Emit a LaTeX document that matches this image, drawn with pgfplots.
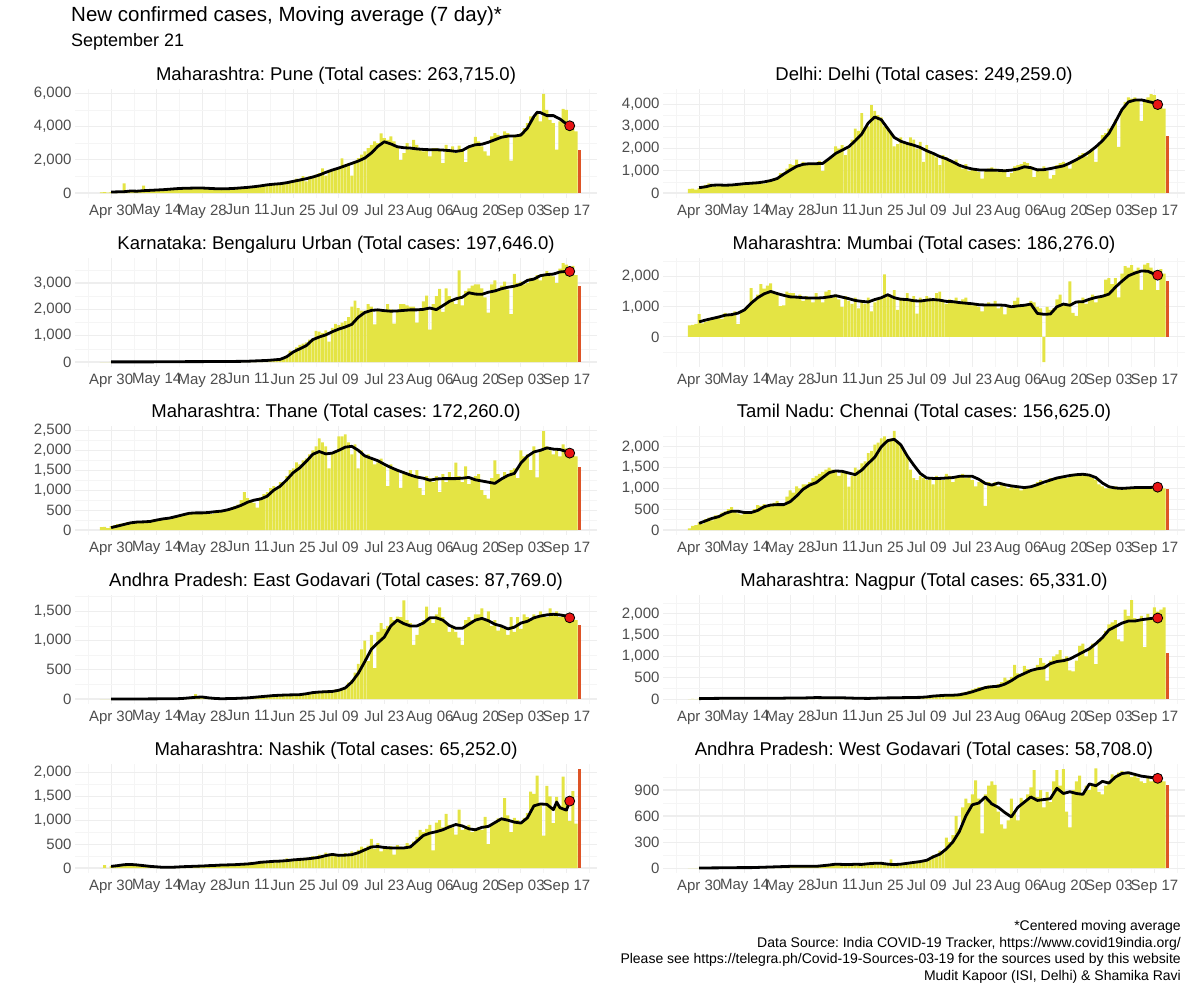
\documentclass[border=0pt]{standalone}
\usepackage{pgfplots}
\pgfplotsset{compat=1.18}
\usepackage{fontspec}
\setmainfont{Liberation Sans}
\frenchspacing
\definecolor{baryel}{RGB}{228,228,68}
\definecolor{lastred}{RGB}{222,84,38}
\definecolor{tickgray}{RGB}{77,77,77}
\definecolor{dotred}{RGB}{232,20,20}
\pgfplotsset{
 pnl/.style={
  scale only axis, width=522pt, height=109pt, anchor=north west,
  xmin=-11.1, xmax=149.4,
  xtick={0,14,...,140},
  xticklabels={Apr 30,May 14,May 28,Jun 11,Jun 25,Jul 09,Jul 23,Aug 06,Aug 20,Sep 03,Sep 17},
  minor xtick={-7,7,...,147},
  grid=both,
  major grid style={draw=gray!13, line width=1.1pt},
  minor grid style={draw=gray!8, line width=0.6pt},
  axis line style={draw=none},
  tick style={draw=none},
  tick label style={font=\fontsize{15}{15}\selectfont, text=tickgray},
  xticklabel style={yshift=-3pt},
  scaled y ticks=false,
  yticklabel style={/pgf/number format/.cd, fixed, 1000 sep={,}},
  /pgf/number format/assume math mode=true,
  title style={font=\fontsize{18.5}{18.5}\selectfont, yshift=-5pt},
 },
 bars/.style={ybar, bar width=0.9, bar shift=0pt, fill=baryel, draw=none},
 lastbar/.style={ybar, bar width=0.9, bar shift=0pt, fill=lastred, draw=none},
 maline/.style={black, line width=2.8pt, line join=round},
 dot/.style={only marks, mark=*, mark size=5pt, mark options={fill=dotred, draw=black, line width=0.8pt}},
}
\begin{document}
\begin{tikzpicture}
\path[use as bounding box] (0,0) rectangle (1200pt,-988pt);
\node[anchor=west, inner sep=0pt, font=\fontsize{20.5}{24}\selectfont] at (71pt,-16pt) {New confirmed cases, Moving average (7 day)*};
\node[anchor=west, inner sep=0pt, font=\fontsize{18}{22}\selectfont] at (71pt,-42pt) {September 21};

% ---------- Pune ----------
\begin{axis}[pnl, at={(75pt,-89pt)}, title={Maharashtra: Pune (Total cases: 263,715.0)},
 ymin=-300, ymax=6250, ytick={0,2000,4000,6000}, minor ytick={1000,3000,5000}]
\addplot[bars] table[row sep=\\, header=false, x expr=\coordindex-3, y index=0] {
40\\50\\30\\
60\\80\\90\\70\\580\\110\\90\\120\\100\\150\\
450\\120\\170\\160\\190\\180\\210\\200\\240\\230\\
260\\280\\270\\300\\290\\320\\310\\300\\290\\310\\
280\\260\\270\\240\\260\\250\\270\\290\\280\\300\\
320\\350\\330\\360\\400\\420\\450\\470\\500\\540\\
520\\600\\560\\640\\620\\700\\680\\860\\750\\1020\\
700\\1000\\960\\1100\\1200\\1480\\1050\\1250\\1350\\1450\\
1500\\2080\\1700\\1800\\1050\\1900\\2100\\2300\\2500\\2700\\
2900\\3100\\3000\\3580\\3300\\3200\\3400\\3100\\2800\\1980\\
2400\\3000\\2600\\3200\\2900\\2700\\2500\\2600\\2200\\2700\\
2700\\2600\\1800\\2900\\2500\\2800\\2400\\2850\\2600\\1850\\
2700\\2900\\3380\\3100\\2800\\2500\\2240\\3400\\3600\\3500\\
3300\\3700\\3600\\1950\\3500\\3500\\3600\\3900\\4200\\4600\\
4500\\4800\\4300\\5950\\5000\\4400\\4200\\2600\\4300\\5050\\
5000\\4200\\4000\\3700\\
};
\addplot[lastbar] coordinates {(144,2580)};
\addplot[maline] coordinates {(0,60)(2,70)(4,80)(6,120)(8,110)(10,140)(12,160)(14,180)(16,200)(18,230)(20,260)(22,280)(24,290)(26,300)(28,300)(30,280)(32,260)(34,250)(36,260)(38,280)(40,310)(42,340)(44,380)(46,430)(48,490)(50,530)(52,560)(54,620)(56,700)(58,780)(60,860)(62,960)(64,1080)(66,1240)(68,1380)(70,1500)(72,1640)(74,1780)(76,1920)(78,2100)(80,2400)(82,2800)(84,3080)(86,2950)(88,2780)(90,2720)(92,2700)(94,2650)(96,2620)(98,2600)(100,2600)(102,2580)(104,2550)(106,2500)(108,2560)(110,2780)(112,2900)(114,2930)(116,3050)(118,3200)(120,3350)(122,3420)(124,3420)(126,3480)(128,3900)(130,4600)(131,4850)(132,4830)(134,4650)(136,4650)(138,4450)(140,4150)(141,4040)};
\addplot[dot] coordinates {(141,4040)};
\end{axis}

% ---------- Delhi ----------
\begin{axis}[pnl, at={(663pt,-89pt)}, title={Delhi: Delhi (Total cases: 249,259.0)},
 ymin=-225, ymax=4680, ytick={0,1000,2000,3000,4000}, minor ytick={500,1500,2500,3500,4500}]
\addplot[bars] table[row sep=\\, header=false, x expr=\coordindex-3, y index=0] {
190\\200\\150\\
220\\300\\370\\430\\380\\300\\400\\350\\380\\320\\
340\\380\\400\\430\\360\\420\\460\\500\\450\\480\\
420\\520\\600\\650\\700\\900\\800\\1100\\1300\\1250\\
1500\\1300\\1400\\1250\\1300\\1350\\1300\\1450\\1000\\1400\\
1500\\1700\\2100\\2000\\2150\\1700\\2000\\2400\\2900\\2800\\
3600\\2900\\3000\\3950\\3700\\3500\\3400\\3000\\2900\\2700\\
2100\\2200\\2500\\2300\\2200\\2500\\2400\\2000\\2300\\1400\\
2150\\1800\\1700\\1600\\1250\\1700\\1600\\1500\\1400\\1500\\
1200\\1100\\1300\\1000\\1100\\1050\\950\\650\\1000\\1100\\
1150\\1100\\950\\1000\\1050\\720\\900\\1200\\1250\\1300\\
1400\\1350\\1200\\720\\1100\\1050\\1200\\1000\\650\\800\\
1250\\1350\\1400\\1300\\1100\\1450\\1550\\1700\\1800\\1650\\
1900\\2000\\1400\\2200\\2600\\2700\\2900\\3000\\3300\\2080\\
3800\\4100\\4300\\4250\\4300\\4200\\3250\\4100\\4300\\4450\\
4400\\4100\\3900\\3800\\
};
\addplot[lastbar] coordinates {(144,2550)};
\addplot[maline] coordinates {(0,240)(2,280)(4,350)(6,360)(8,350)(10,360)(12,390)(14,420)(16,440)(18,460)(20,500)(22,560)(24,650)(26,850)(28,1030)(30,1200)(32,1290)(34,1320)(36,1320)(38,1330)(40,1550)(42,1780)(44,1930)(46,2080)(48,2350)(50,2650)(52,3150)(54,3420)(56,3300)(58,2900)(60,2500)(62,2330)(64,2230)(66,2150)(68,2050)(70,1900)(72,1780)(74,1640)(76,1540)(78,1400)(80,1250)(82,1150)(84,1080)(86,1040)(88,1030)(90,1030)(92,1020)(94,1000)(96,1030)(98,1080)(100,1180)(102,1140)(104,1040)(106,1050)(108,1100)(110,1160)(112,1220)(114,1350)(116,1500)(118,1660)(120,1850)(122,2080)(124,2350)(126,2680)(128,3200)(130,3750)(132,4100)(134,4180)(136,4190)(138,4120)(140,4050)(141,3980)};
\addplot[dot] coordinates {(141,3980)};
\end{axis}

% ---------- Bengaluru ----------
\begin{axis}[pnl, at={(75pt,-258pt)}, title={Karnataka: Bengaluru Urban (Total cases: 197,646.0)},
 ymin=-190, ymax=3950, ytick={0,1000,2000,3000}, minor ytick={500,1500,2500,3500}]
\addplot[bars] table[row sep=\\, header=false, x expr=\coordindex-3, y index=0] {
0\\0\\0\\
5\\3\\8\\4\\6\\5\\7\\3\\6\\5\\
6\\4\\8\\5\\7\\9\\6\\8\\10\\7\\
10\\12\\8\\14\\11\\15\\13\\16\\12\\18\\
15\\20\\17\\22\\18\\20\\25\\19\\24\\22\\
26\\30\\28\\35\\40\\45\\42\\55\\60\\65\\
70\\100\\120\\180\\250\\430\\380\\560\\650\\700\\
750\\850\\900\\1180\\1150\\1100\\1200\\770\\1300\\1450\\
1400\\1500\\1550\\1700\\2100\\2330\\2050\\1950\\1950\\2200\\
2100\\1430\\2000\\1900\\1900\\2200\\2000\\1460\\1950\\2200\\
2200\\2150\\2100\\2100\\1500\\2000\\2300\\2520\\1230\\2200\\
2500\\2780\\1900\\2800\\2500\\2300\\2200\\3480\\2150\\2700\\
2800\\2900\\2950\\2950\\2800\\2450\\1880\\2950\\3100\\2700\\
2900\\3050\\2750\\1820\\3350\\3000\\3050\\2950\\3000\\3200\\
3200\\3300\\3100\\3300\\3450\\3350\\3250\\3000\\3550\\3760\\
3700\\3500\\3650\\3300\\
};
\addplot[lastbar] coordinates {(144,2870)};
\addplot[maline] coordinates {(0,5)(4,5)(8,5)(12,5)(16,8)(20,10)(24,15)(28,15)(32,18)(36,20)(40,25)(42,30)(44,40)(46,50)(48,60)(50,80)(52,100)(54,200)(56,380)(58,500)(60,620)(62,850)(64,950)(66,1030)(68,1150)(70,1250)(72,1330)(74,1430)(76,1700)(78,1880)(80,1960)(82,1980)(84,1950)(86,1930)(88,1940)(90,1960)(92,1980)(94,1980)(96,2000)(98,2050)(100,1990)(102,2140)(104,2300)(106,2400)(108,2460)(110,2630)(112,2580)(114,2570)(116,2650)(118,2700)(120,2780)(122,2840)(124,2880)(126,2950)(128,3100)(130,3150)(132,3280)(134,3320)(136,3340)(138,3420)(140,3440)(141,3440)};
\addplot[dot] coordinates {(141,3440)};
\end{axis}

% ---------- Mumbai ----------
\begin{axis}[pnl, at={(663pt,-258pt)}, title={Maharashtra: Mumbai (Total cases: 186,276.0)},
 ymin=-1000, ymax=2620, ytick={0,1000,2000}, minor ytick={-500,500,1500,2500}]
\addplot[bars] table[row sep=\\, header=false, x expr=\coordindex-3, y index=0] {
380\\400\\430\\
760\\450\\500\\550\\650\\600\\700\\600\\800\\750\\
700\\850\\420\\820\\900\\1050\\1620\\1200\\1400\\1750\\
1600\\1700\\1780\\1500\\1400\\1020\\1050\\1500\\1450\\1450\\
1300\\1400\\1200\\1350\\1300\\1150\\1450\\1300\\1150\\1500\\
1550\\1300\\1400\\1250\\1000\\1350\\1200\\1100\\1300\\950\\
1200\\1100\\1300\\850\\1150\\1250\\1300\\2080\\1400\\1350\\
1550\\900\\1300\\1250\\1450\\1200\\1350\\770\\1300\\1200\\
1350\\1300\\1250\\1450\\1500\\1200\\1100\\1250\\1150\\1300\\
1100\\1250\\1300\\1150\\1050\\1100\\1000\\850\\1050\\1150\\
1050\\1200\\950\\1000\\750\\1050\\950\\1200\\1300\\1000\\
1050\\1100\\1200\\1150\\1000\\950\\-840\\1000\\900\\950\\
1250\\1400\\1100\\1050\\1840\\800\\700\\1200\\1300\\1100\\
1250\\1400\\1150\\1300\\1350\\1900\\1950\\1750\\1950\\1310\\
2100\\2350\\2300\\2380\\2200\\2300\\1560\\2400\\2450\\2300\\
2200\\1550\\2250\\2100\\
};
\addplot[lastbar] coordinates {(144,1860)};
\addplot[maline] coordinates {(0,500)(2,560)(4,610)(6,660)(8,720)(10,740)(12,790)(14,900)(16,1120)(18,1300)(20,1430)(22,1510)(24,1440)(26,1380)(28,1330)(30,1320)(32,1300)(34,1290)(36,1290)(38,1300)(40,1330)(42,1370)(44,1320)(46,1270)(48,1210)(50,1180)(52,1160)(54,1240)(56,1300)(58,1400)(60,1300)(62,1250)(64,1240)(66,1200)(68,1190)(70,1220)(72,1240)(74,1220)(76,1180)(78,1170)(80,1140)(82,1120)(84,1100)(86,1070)(88,1060)(90,1060)(92,1060)(94,1050)(96,1000)(98,1030)(100,1050)(102,1090)(104,780)(106,750)(108,760)(110,1000)(112,1090)(114,1050)(116,1160)(118,1170)(120,1250)(122,1310)(124,1350)(126,1420)(128,1650)(130,1850)(132,2030)(134,2120)(136,2190)(138,2180)(140,2080)(141,2050)};
\addplot[dot] coordinates {(141,2050)};
\end{axis}

% ---------- Thane ----------
\begin{axis}[pnl, at={(75pt,-426pt)}, title={Maharashtra: Thane (Total cases: 172,260.0)},
 ymin=-125, ymax=2610, ytick={0,500,1000,1500,2000,2500}, minor ytick={250,750,1250,1750,2250}]
\addplot[bars] table[row sep=\\, header=false, x expr=\coordindex-3, y index=0] {
70\\80\\50\\
100\\120\\150\\160\\170\\200\\180\\190\\210\\200\\
220\\180\\240\\260\\250\\280\\300\\320\\270\\300\\
350\\380\\350\\420\\450\\400\\440\\450\\420\\430\\
450\\400\\480\\470\\500\\480\\520\\560\\600\\640\\
750\\950\\800\\700\\680\\560\\820\\900\\950\\1050\\
1100\\1050\\1200\\1150\\1350\\1500\\1550\\1700\\1650\\1750\\
1800\\1900\\2000\\2100\\2300\\2200\\2100\\1550\\1950\\2000\\
2350\\2350\\2400\\2200\\1900\\2150\\1550\\2000\\1850\\1900\\
1800\\1650\\1700\\1790\\1600\\1100\\1650\\1550\\1500\\1060\\
1450\\1400\\1500\\1350\\1500\\1050\\875\\1350\\1300\\1200\\
1350\\950\\1400\\1200\\1450\\1250\\1690\\1350\\1200\\1600\\
1150\\1300\\1350\\1400\\1000\\875\\790\\1300\\1750\\1400\\
1300\\1450\\1350\\1500\\1550\\1300\\2000\\1850\\1900\\1500\\
2100\\1320\\2000\\2480\\2100\\2000\\1900\\2000\\1850\\2150\\
2050\\1950\\1900\\1850\\
};
\addplot[lastbar] coordinates {(144,1580)};
\addplot[maline] coordinates {(0,60)(2,100)(4,140)(6,180)(8,200)(10,205)(12,215)(14,250)(16,280)(18,300)(20,340)(22,380)(24,420)(26,430)(28,430)(30,440)(32,460)(34,475)(36,510)(38,560)(40,620)(42,700)(44,750)(46,780)(48,850)(50,1000)(52,1100)(54,1260)(56,1440)(58,1560)(60,1720)(62,1900)(64,1970)(66,1910)(68,1930)(70,2000)(72,2080)(74,2100)(76,2000)(78,1860)(80,1800)(82,1740)(84,1650)(86,1570)(88,1500)(90,1440)(92,1380)(94,1330)(96,1300)(98,1250)(100,1280)(102,1290)(104,1290)(106,1290)(108,1300)(110,1320)(112,1260)(114,1230)(116,1200)(118,1170)(120,1280)(122,1370)(124,1420)(126,1680)(128,1850)(130,1960)(132,2000)(134,2060)(136,2030)(138,2020)(140,1970)(141,1930)};
\addplot[dot] coordinates {(141,1930)};
\end{axis}

% ---------- Chennai ----------
\begin{axis}[pnl, at={(663pt,-426pt)}, title={Tamil Nadu: Chennai (Total cases: 156,625.0)},
 ymin=-120, ymax=2500, ytick={0,500,1000,1500,2000}, minor ytick={250,750,1250,1750,2250}]
\addplot[bars] table[row sep=\\, header=false, x expr=\coordindex-3, y index=0] {
40\\100\\120\\
180\\150\\260\\300\\230\\350\\360\\420\\450\\500\\
550\\450\\400\\370\\420\\380\\450\\500\\600\\580\\
620\\550\\600\\650\\700\\580\\600\\800\\950\\900\\
1050\\1000\\1100\\1100\\1150\\1250\\1300\\1350\\1400\\1450\\
1500\\1450\\1400\\1300\\1400\\1400\\1040\\1300\\1500\\1450\\
1600\\1650\\1850\\1900\\2050\\2100\\2200\\2250\\2150\\2200\\
2380\\2150\\2050\\1900\\1750\\1450\\1250\\1200\\1300\\1250\\
1200\\1250\\1100\\1300\\1250\\1200\\1350\\1300\\1150\\1250\\
1300\\1350\\1250\\1300\\1200\\1050\\1150\\1200\\580\\1150\\
1100\\1150\\1050\\1100\\1050\\1000\\1050\\1000\\1050\\950\\
1000\\1050\\1000\\1100\\1150\\1200\\1100\\1200\\1250\\1200\\
1250\\1250\\1300\\1250\\1300\\1350\\1300\\1300\\1350\\1300\\
1300\\1250\\1200\\1100\\1050\\1000\\1000\\1000\\1050\\980\\
1000\\1000\\1020\\990\\1010\\1000\\1020\\990\\1000\\1020\\
1000\\990\\1010\\1000\\
};
\addplot[lastbar] coordinates {(144,980)};
\addplot[maline] coordinates {(0,160)(2,220)(4,280)(6,320)(8,400)(10,450)(12,450)(14,420)(16,420)(18,470)(20,560)(22,600)(24,610)(26,610)(28,680)(30,820)(32,980)(34,1080)(36,1140)(38,1260)(40,1380)(42,1420)(44,1410)(46,1370)(48,1330)(50,1440)(52,1600)(54,1750)(56,2000)(58,2150)(60,2180)(62,2050)(64,1780)(66,1560)(68,1360)(70,1250)(72,1240)(74,1240)(76,1250)(78,1260)(80,1290)(82,1290)(84,1290)(86,1220)(88,1120)(90,1080)(92,1130)(94,1090)(96,1060)(98,1040)(100,1020)(102,1040)(104,1090)(106,1150)(108,1200)(110,1250)(112,1280)(114,1310)(116,1330)(118,1340)(120,1320)(122,1260)(124,1130)(126,1040)(128,1010)(130,1000)(132,1010)(134,1020)(136,1020)(138,1020)(140,1030)(141,1030)};
\addplot[dot] coordinates {(141,1030)};
\end{axis}

% ---------- East Godavari ----------
\begin{axis}[pnl, at={(75pt,-595pt)}, title={Andhra Pradesh: East Godavari (Total cases: 87,769.0)},
 ymin=-85, ymax=1780, ytick={0,500,1000,1500}, minor ytick={250,750,1250,1750}]
\addplot[bars] table[row sep=\\, header=false, x expr=\coordindex-3, y index=0] {
0\\0\\0\\
0\\2\\0\\3\\1\\0\\2\\4\\1\\3\\
2\\5\\3\\1\\4\\6\\2\\8\\5\\3\\
6\\10\\15\\20\\30\\40\\85\\50\\30\\20\\
10\\8\\5\\6\\4\\8\\10\\12\\15\\10\\
14\\18\\20\\25\\30\\28\\35\\45\\50\\55\\
60\\55\\70\\65\\75\\70\\80\\75\\70\\85\\
90\\110\\100\\130\\120\\140\\150\\120\\140\\160\\
150\\180\\200\\280\\330\\450\\600\\850\\1000\\650\\
1100\\530\\1150\\1300\\1200\\1250\\1400\\1350\\1410\\1400\\
1690\\1350\\1300\\925\\1100\\1250\\1350\\1580\\1400\\1300\\
1450\\1570\\1400\\1300\\1150\\1250\\1150\\1050\\925\\1350\\
1400\\1350\\1450\\1450\\1550\\1350\\1500\\1250\\1350\\1170\\
1250\\1200\\1100\\1400\\1150\\1400\\1200\\1450\\1400\\1350\\
1450\\1400\\1500\\1450\\1400\\1550\\1450\\1500\\1400\\1450\\
1450\\1400\\1400\\1350\\
};
\addplot[lastbar] coordinates {(144,1270)};
\addplot[maline] coordinates {(0,0)(10,2)(20,5)(22,10)(24,20)(26,30)(28,35)(30,20)(32,10)(34,5)(36,8)(38,10)(40,15)(42,20)(44,30)(46,40)(48,50)(50,60)(52,65)(54,70)(56,72)(58,75)(60,90)(62,110)(64,120)(66,125)(68,130)(70,150)(72,190)(74,290)(76,440)(78,640)(80,850)(82,960)(84,1060)(86,1250)(88,1350)(90,1290)(92,1250)(94,1250)(96,1300)(98,1390)(100,1390)(102,1350)(104,1260)(106,1210)(108,1210)(110,1280)(112,1350)(114,1380)(116,1340)(118,1280)(120,1250)(122,1200)(124,1230)(126,1300)(128,1330)(130,1390)(132,1420)(134,1440)(136,1450)(138,1440)(140,1420)(141,1390)};
\addplot[dot] coordinates {(141,1390)};
\end{axis}

% ---------- Nagpur ----------
\begin{axis}[pnl, at={(663pt,-595pt)}, title={Maharashtra: Nagpur (Total cases: 65,331.0)},
 ymin=-116, ymax=2440, ytick={0,500,1000,1500,2000}, minor ytick={250,750,1250,1750,2250}]
\addplot[bars] table[row sep=\\, header=false, x expr=\coordindex-3, y index=0] {
0\\5\\0\\
10\\15\\8\\12\\20\\10\\18\\14\\22\\16\\
20\\25\\18\\22\\15\\20\\24\\18\\20\\22\\
15\\18\\12\\20\\16\\22\\25\\20\\30\\28\\
25\\30\\22\\28\\35\\30\\40\\32\\28\\35\\
30\\38\\32\\40\\28\\25\\30\\20\\18\\15\\
12\\18\\15\\20\\22\\25\\28\\30\\26\\32\\
30\\28\\35\\32\\38\\40\\45\\38\\42\\48\\
40\\60\\80\\70\\90\\100\\110\\90\\120\\100\\
130\\150\\170\\200\\230\\250\\280\\270\\300\\320\\
280\\250\\350\\400\\500\\450\\520\\800\\600\\560\\
780\\700\\640\\700\\800\\960\\850\\430\\900\\1000\\
1050\\1150\\950\\1000\\670\\650\\900\\1250\\1300\\1000\\
1200\\1300\\820\\1400\\1450\\1600\\1750\\1800\\1850\\1400\\
1350\\2100\\1950\\2320\\1900\\1850\\1950\\1220\\2000\\1900\\
2150\\2050\\2100\\2150\\
};
\addplot[lastbar] coordinates {(144,1080)};
\addplot[maline] coordinates {(0,10)(4,15)(8,18)(12,20)(16,18)(20,20)(24,18)(28,25)(32,25)(36,35)(40,30)(44,30)(48,20)(52,15)(56,25)(60,30)(64,35)(68,40)(70,50)(72,70)(74,80)(76,90)(78,90)(80,100)(82,130)(84,170)(86,220)(88,270)(90,290)(92,300)(94,350)(96,430)(98,530)(100,600)(102,670)(104,710)(106,730)(108,830)(110,880)(112,900)(114,940)(116,1020)(118,1100)(120,1180)(122,1300)(124,1440)(126,1620)(128,1700)(130,1780)(132,1830)(134,1830)(136,1860)(138,1880)(140,1900)(141,1900)};
\addplot[dot] coordinates {(141,1900)};
\end{axis}

% ---------- Nashik ----------
\begin{axis}[pnl, at={(75pt,-764pt)}, title={Maharashtra: Nashik (Total cases: 65,252.0)},
 ymin=-104, ymax=2175, ytick={0,500,1000,1500,2000}, minor ytick={250,750,1250,1750}]
\addplot[bars] table[row sep=\\, header=false, x expr=\coordindex-3, y index=0] {
0\\60\\0\\
40\\30\\50\\80\\60\\90\\70\\60\\80\\50\\
40\\30\\20\\40\\10\\20\\15\\10\\20\\30\\
20\\30\\40\\25\\35\\40\\50\\30\\60\\40\\
50\\60\\40\\70\\50\\80\\60\\70\\90\\60\\
80\\110\\70\\130\\100\\90\\150\\120\\140\\160\\
120\\170\\160\\140\\200\\150\\190\\170\\210\\200\\
220\\180\\250\\240\\280\\260\\320\\300\\290\\270\\
240\\280\\310\\270\\350\\300\\380\\450\\420\\470\\
610\\400\\520\\350\\450\\420\\460\\280\\480\\450\\
430\\520\\480\\550\\650\\800\\750\\820\\900\\370\\
950\\1000\\850\\1130\\900\\850\\700\\1220\\800\\850\\
900\\750\\800\\850\\800\\1070\\500\\900\\950\\1040\\
1000\\1460\\1100\\750\\1050\\1000\\950\\1050\\1150\\1600\\
1550\\1930\\1350\\680\\1720\\1500\\940\\1490\\1300\\1910\\
1450\\980\\1610\\930\\
};
\addplot[lastbar] coordinates {(144,2070)};
\addplot[maline] coordinates {(0,35)(2,50)(4,70)(6,75)(8,65)(10,50)(12,35)(14,25)(16,15)(18,15)(20,20)(22,28)(24,32)(26,38)(28,42)(30,50)(32,55)(34,63)(36,66)(38,70)(40,78)(42,85)(44,100)(46,120)(48,130)(50,140)(52,145)(54,155)(56,170)(58,180)(60,190)(62,205)(64,225)(66,260)(68,285)(70,265)(72,270)(74,280)(76,320)(78,380)(80,440)(82,450)(84,430)(86,420)(88,420)(90,420)(92,440)(94,560)(96,680)(98,730)(100,760)(102,800)(104,860)(106,910)(108,880)(110,820)(112,800)(114,850)(116,870)(118,950)(120,1030)(122,1000)(124,960)(126,940)(128,1050)(130,1300)(132,1340)(134,1330)(136,1220)(137,1380)(138,1260)(140,1210)(141,1400)};
\addplot[dot] coordinates {(141,1400)};
\end{axis}

% ---------- West Godavari ----------
\begin{axis}[pnl, at={(663pt,-764pt)}, title={Andhra Pradesh: West Godavari (Total cases: 58,708.0)},
 ymin=-57, ymax=1200, ytick={0,300,600,900}, minor ytick={150,450,750,1050}]
\addplot[bars] table[row sep=\\, header=false, x expr=\coordindex-3, y index=0] {
0\\0\\0\\
2\\0\\3\\1\\2\\0\\4\\2\\3\\1\\
3\\5\\2\\4\\6\\3\\5\\8\\4\\6\\
8\\10\\12\\9\\15\\18\\14\\20\\22\\18\\
25\\20\\18\\22\\15\\20\\24\\28\\30\\35\\
40\\50\\45\\38\\42\\50\\35\\40\\48\\45\\
40\\55\\50\\60\\45\\58\\70\\50\\60\\100\\
40\\35\\50\\45\\60\\55\\70\\80\\65\\90\\
80\\100\\150\\130\\200\\180\\350\\300\\380\\600\\
450\\700\\800\\750\\850\\1010\\800\\400\\850\\950\\
1000\\960\\650\\505\\455\\550\\800\\650\\550\\810\\
780\\850\\930\\1130\\820\\900\\700\\880\\760\\1000\\
1130\\950\\1140\\650\\470\\900\\1000\\1065\\850\\950\\
900\\950\\1150\\880\\850\\950\\1000\\1080\\1050\\1100\\
1120\\1080\\1100\\1050\\1070\\1040\\1000\\980\\1050\\1000\\
1020\\980\\1050\\1000\\
};
\addplot[lastbar] coordinates {(144,957)};
\addplot[maline] coordinates {(0,0)(4,2)(8,3)(12,5)(16,5)(20,10)(24,15)(28,20)(32,20)(36,20)(40,35)(42,45)(44,42)(46,40)(48,44)(50,42)(52,50)(54,55)(56,55)(58,45)(60,40)(62,45)(64,55)(66,65)(68,75)(70,90)(72,130)(74,160)(76,220)(78,300)(80,420)(82,600)(84,730)(86,750)(88,820)(90,740)(92,700)(94,640)(96,590)(98,700)(100,760)(102,820)(104,780)(106,790)(108,800)(110,920)(112,860)(114,880)(116,860)(118,850)(120,970)(122,950)(124,1000)(126,980)(128,1050)(130,1090)(132,1100)(134,1080)(136,1060)(138,1050)(140,1040)(141,1035)};
\addplot[dot] coordinates {(141,1035)};
\end{axis}

\node[anchor=north east, align=right, inner sep=0pt, font=\fontsize{14}{16.8}\selectfont] at (1181pt,-920pt) {*Centered moving average\\Data Source: India COVID-19 Tracker, https://www.covid19india.org/\\Please see https://telegra.ph/Covid-19-Sources-03-19 for the sources used by this website\\Mudit Kapoor (ISI, Delhi) \& Shamika Ravi};
\end{tikzpicture}
\end{document}
